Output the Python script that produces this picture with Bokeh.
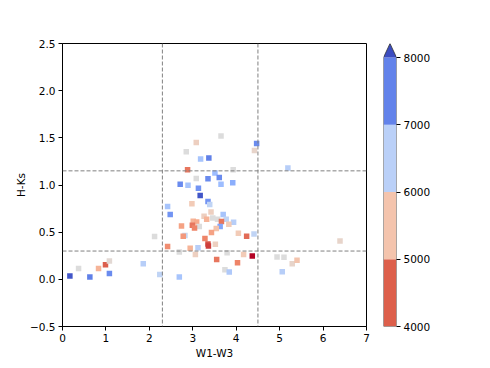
import numpy as np
from bokeh.plotting import figure
from bokeh.layouts import row
from bokeh.models import (Span, LinearColorMapper, CustomJSTickFormatter, FixedTicker,
                          Range1d, Label, ColumnDataSource)
from bokeh.embed import file_html
from bokeh.resources import INLINE

# ---------------- data ----------------
w1w3 = [0.17, 0.37, 0.63, 0.83, 0.99, 1.08, 1.08, 1.86, 2.24, 2.12,
        2.69, 2.42, 2.69, 2.42, 2.48, 2.71, 2.89, 2.85, 3.08, 3.18,
        3.37, 2.88, 3.08, 3.35, 3.13, 3.17, 3.35, 2.98, 3.65, 4.47,
        4.42, 3.51, 3.93, 3.61, 3.92, 3.65, 3.39, 3.42, 3.70, 3.26,
        3.46, 3.32, 3.57, 3.77, 3.66, 3.01, 3.09, 3.94, 3.83, 3.63,
        2.99, 3.15, 3.04, 2.74, 3.54, 3.43, 4.05, 4.24, 4.41, 2.82,
        2.78, 3.28, 3.35, 3.36, 3.52, 3.12, 2.94, 3.06, 3.79, 4.17,
        4.37, 3.55, 4.03, 3.74, 3.84, 5.19, 6.39, 4.94, 5.10, 5.29,
        5.40, 5.06]
hks = [0.035, 0.116, 0.024, 0.116, 0.155, 0.194, 0.063, 0.166, 0.050, 0.453,
       0.024, 0.347, 0.290, 0.772, 0.687, 1.009, 0.998, 1.352, 1.450, 1.275,
       1.285, 1.161, 1.070, 1.065, 0.966, 0.889, 0.825, 0.800, 1.520, 1.440,
       1.367, 1.126, 1.161, 1.080, 1.023, 1.009, 0.793, 0.715, 0.687, 0.669,
       0.651, 0.637, 0.637, 0.637, 0.613, 0.616, 0.608, 0.605, 0.584, 0.560,
       0.573, 0.560, 0.545, 0.566, 0.538, 0.496, 0.488, 0.456, 0.481, 0.465,
       0.456, 0.432, 0.375, 0.353, 0.371, 0.336, 0.329, 0.262, 0.283, 0.262,
       0.247, 0.209, 0.177, 0.102, 0.077, 1.179, 0.407, 0.237, 0.233, 0.166,
       0.201, 0.081]
teff = [7900, 6000, 7500, 5300, 4500, 5900, 7400, 6500, 6400, 6000,
        6700, 4900, 6000, 6700, 7300, 7400, 6700, 6000, 5700, 6700,
        7500, 4700, 6000, 7400, 7300, 7900, 7300, 5600, 6000, 7400,
        5800, 6800, 6000, 7400, 7000, 6800, 6400, 5700, 6700, 5700,
        6000, 5300, 6000, 6400, 4700, 5300, 5200, 6500, 5600, 7100,
        4700, 6000, 4800, 5100, 5500, 5100, 5600, 4600, 6400, 6300,
        5000, 4800, 4400, 4300, 5700, 6500, 5300, 5700, 6000, 5600,
        4000, 4700, 4800, 6000, 6600, 6500, 5800, 6000, 6000, 5800,
        5500, 6500]

vlines = [2.3, 4.5]
hlines = [1.15, 0.3]

x_ticks = [0, 1, 2, 3, 4, 5, 6, 7]
y_ticks = [-0.5, 0.0, 0.5, 1.0, 1.5, 2.0, 2.5]
cbar_bounds = [4000, 5000, 6000, 7000, 8000]
cbar_ticks = [4000, 5000, 6000, 7000, 8000]
cbar_colors = ["#dd5f4b", "#f4c4ad", "#bad0f8", "#6282ea"]
cbar_over = "#3b4cc0"
cbar_label = "Teff"

# coolwarm anchors (reversed: low Teff = red)
cw = ["#3b4cc0", "#5977e3", "#7b9ff9", "#9ebeff", "#c0d4f5", "#dddcdc",
      "#f2cbb7", "#f7ac8e", "#ee8468", "#d65244", "#b40426"]

def hex2rgb(h):
    return np.array([int(h[i:i + 2], 16) for i in (1, 3, 5)], dtype=float)

anch = np.array([hex2rgb(c) for c in cw])
pos = np.linspace(0, 1, len(cw))
pal = []
for v in np.linspace(0, 1, 256):
    rgb = [np.interp(v, pos, anch[:, k]) for k in range(3)]
    pal.append("#%02x%02x%02x" % tuple(int(round(c)) for c in rgb))
pal_r = pal[::-1]  # index 0 -> red (low Teff)

FONT = "DejaVu Sans"
FS = "10.5px"

# ---------------- main plot ----------------
p = figure(frame_width=304, frame_height=283, output_backend="svg", toolbar_location=None,
           x_range=Range1d(0, 7), y_range=Range1d(-0.5, 2.5),
           min_border_left=62, min_border_right=10, min_border_top=43, min_border_bottom=36)
p.grid.visible = False
p.outline_line_color = "black"
p.outline_line_width = 1
p.background_fill_color = "white"
p.border_fill_color = "white"

mapper = LinearColorMapper(palette=pal_r, low=4000, high=8000)
src = ColumnDataSource(dict(x=w1w3, y=hks, teff=teff))
p.scatter("x", "y", source=src, marker="square", size=5.5,
          fill_color={"field": "teff", "transform": mapper}, line_color=None)

for v in vlines:
    p.add_layout(Span(location=v, dimension="height", line_color="#808080",
                      line_dash="4 2", line_width=1))
for h in hlines:
    p.add_layout(Span(location=h, dimension="width", line_color="#808080",
                      line_dash="4 2", line_width=1))

fmt = CustomJSTickFormatter(code="return tick.toFixed(1).replace('-', '\u2212');")
p.xaxis.ticker = FixedTicker(ticks=x_ticks)
p.yaxis.ticker = FixedTicker(ticks=y_ticks)
p.yaxis.formatter = fmt
p.xaxis.axis_label = "W1-W3"
p.yaxis.axis_label = "H-Ks"
for ax in (p.xaxis[0], p.yaxis[0]):
    ax.major_label_text_font = FONT
    ax.major_label_text_font_size = FS
    ax.major_label_text_color = "black"
    ax.axis_label_text_font = FONT
    ax.axis_label_text_font_size = FS
    ax.axis_label_text_font_style = "normal"
    ax.axis_label_text_color = "black"
    ax.minor_tick_line_color = None
    ax.major_tick_in = 0
    ax.major_tick_out = 4
    ax.major_tick_line_color = "black"
    ax.axis_line_color = "black"
    ax.major_label_standoff = 3
p.yaxis.axis_label_standoff = 0
p.xaxis.axis_label_standoff = 2

# ---------------- colorbar ----------------
top_ext = 4000 + 283.0 / 269.0 * 4000
c = figure(frame_width=13, frame_height=283, output_backend="svg", toolbar_location=None,
           x_range=Range1d(0, 1), y_range=Range1d(4000, top_ext),
           min_border_left=7, min_border_right=80, min_border_top=43, min_border_bottom=36,
           y_axis_location="right")
c.grid.visible = False
c.outline_line_color = None
c.xaxis.visible = False
c.quad(left=0, right=1, bottom=cbar_bounds[:-1], top=cbar_bounds[1:],
       fill_color=cbar_colors, line_color=None)
c.patch(x=[0, 0.5, 1], y=[cbar_bounds[-1], top_ext, cbar_bounds[-1]],
        fill_color=cbar_over, line_color=None)
c.patch(x=[0, 0, 0.5, 1, 1, 0],
        y=[cbar_bounds[0], cbar_bounds[-1], top_ext, cbar_bounds[-1], cbar_bounds[0], cbar_bounds[0]],
        fill_color=None, line_color="#333333", line_width=0.8)
ya = c.yaxis[0]
ya.ticker = FixedTicker(ticks=cbar_ticks)
ya.axis_line_color = None
ya.major_tick_in = 0
ya.major_tick_out = 4
ya.major_tick_line_color = "black"
ya.minor_tick_line_color = None
ya.major_label_text_font = FONT
ya.major_label_text_font_size = FS
ya.major_label_text_color = "black"
ya.major_label_standoff = 3
c.add_layout(Label(x=61, y=(cbar_bounds[0] + cbar_bounds[-1]) / 2, x_units="screen", y_units="data",
                   text=cbar_label, angle=90, angle_units="deg", text_align="center",
                   text_baseline="middle", text_font=FONT, text_font_size=FS,
                   text_color="black"))

layout = row(p, c)
open("out.html", "w").write(file_html(layout, INLINE))
